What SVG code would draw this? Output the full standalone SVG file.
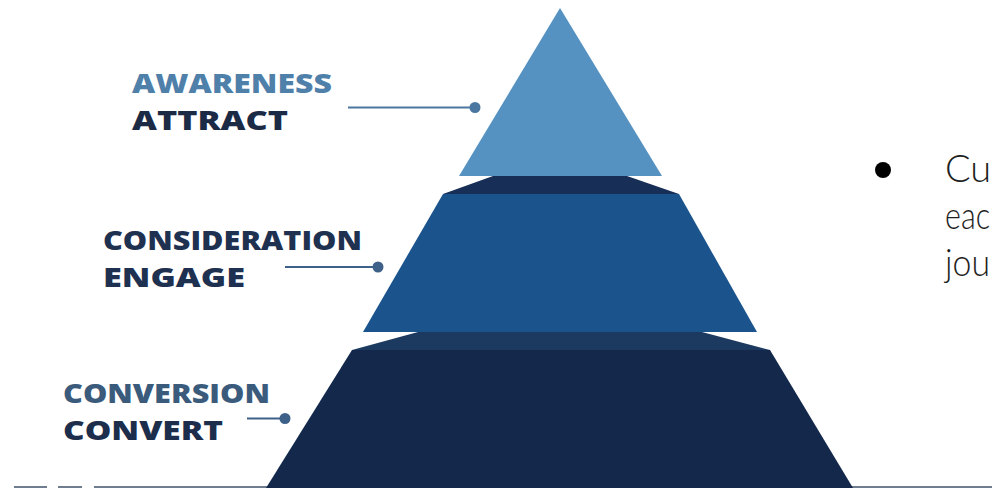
<svg xmlns="http://www.w3.org/2000/svg" width="992" height="488" viewBox="0 0 992 488">
  <style>
    .lbl { font-family: "Open Sans", "Liberation Sans", Arial, sans-serif; font-weight: 800; font-size: 27px; }
    .conn line { stroke-width: 2.2; }
    .body { font-family: Lato, "Open Sans", "Noto Sans", sans-serif; font-weight: 300; font-size: 38px; fill: #1e1e1e; }
  </style>
  <rect x="0" y="0" width="992" height="488" fill="#ffffff"/>
  <g id="baseline">
    <rect x="14" y="486" width="33" height="2" fill="#6f7d8e"/>
    <rect x="58" y="486" width="24" height="2" fill="#6f7d8e"/>
    <rect x="94" y="486" width="898" height="2" fill="#6f7d8e"/>
  </g>
  <g id="tier-convert">
    <polygon points="418,332 702,332 770,350 352,350" fill="#1c3a5f"/>
    <polygon points="352,350 770,350 853,488 266,488" fill="#13284a"/>
  </g>
  <g id="tier-engage">
    <polygon points="493,176 627,176 679,194 443,194" fill="#172f57"/>
    <polygon points="443,194 679,194 757,332 363,332" fill="#1b548d"/>
  </g>
  <g id="tier-attract">
    <polygon points="560,8 662,176 459,176" fill="#5592c2"/>
  </g>
  <g id="label-awareness">
    <text class="lbl" x="132" y="93" fill="#4f80aa" textLength="200" lengthAdjust="spacingAndGlyphs">AWARENESS</text>
    <text class="lbl" x="132" y="130" fill="#1b2a45" textLength="156" lengthAdjust="spacingAndGlyphs">ATTRACT</text>
  </g>
  <g id="label-consideration">
    <text class="lbl" x="103" y="250" fill="#1f3150" textLength="259" lengthAdjust="spacingAndGlyphs">CONSIDERATION</text>
    <text class="lbl" x="103" y="287" fill="#1f3150" textLength="142" lengthAdjust="spacingAndGlyphs">ENGAGE</text>
  </g>
  <g id="label-conversion">
    <text class="lbl" x="63" y="403" fill="#3b5b7d" textLength="207" lengthAdjust="spacingAndGlyphs">CONVERSION</text>
    <text class="lbl" x="63" y="440" fill="#1c2e4c" textLength="160" lengthAdjust="spacingAndGlyphs">CONVERT</text>
  </g>
  <g id="connectors" class="conn">
    <line x1="348" y1="107.5" x2="475" y2="107.5" stroke="#4a77a0"/>
    <circle cx="475" cy="107.5" r="5.5" fill="#4a77a0"/>
    <line x1="285" y1="267" x2="378" y2="267" stroke="#3e6189"/>
    <circle cx="378" cy="267" r="5.5" fill="#3e6189"/>
    <line x1="247" y1="418.5" x2="285" y2="418.5" stroke="#3e6189"/>
    <circle cx="285" cy="418.5" r="5.5" fill="#3e6189"/>
  </g>
  <g id="bullet-text">
    <circle cx="883" cy="170" r="8" fill="#000000"/>
    <text class="body" x="945" y="182">Cu</text>
    <text class="body" x="945" y="229" textLength="45" lengthAdjust="spacingAndGlyphs">eac</text>
    <text class="body" x="945" y="276" textLength="45" lengthAdjust="spacingAndGlyphs">jou</text>
  </g>
</svg>
